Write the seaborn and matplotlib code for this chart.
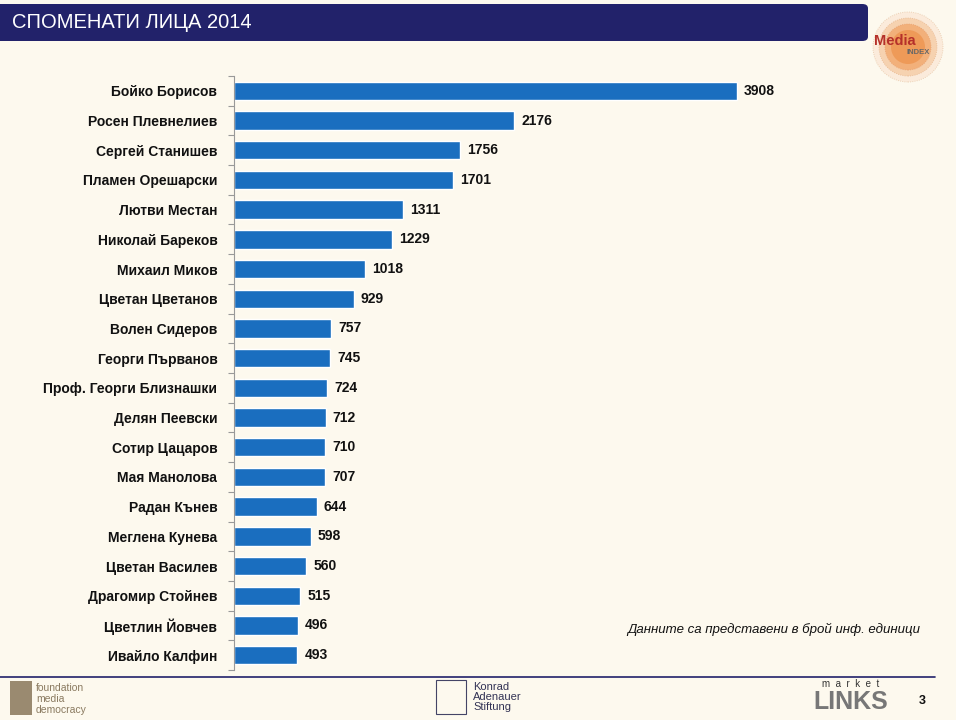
import pandas as pd
import matplotlib.pyplot as plt
import seaborn as sns
from matplotlib.patches import FancyBboxPatch, Ellipse

names = ["Бойко Борисов", "Росен Плевнелиев", "Сергей Станишев", "Пламен Орешарски",
         "Лютви Местан", "Николай Бареков", "Михаил Миков", "Цветан Цветанов",
         "Волен Сидеров", "Георги Първанов", "Проф. Георги Близнашки", "Делян Пеевски",
         "Сотир Цацаров", "Мая Манолова", "Радан Кънев", "Меглена Кунева",
         "Цветан Василев", "Драгомир Стойнев", "Цветлин Йовчев", "Ивайло Калфин"]
mentions = [3908, 2176, 1756, 1701, 1311, 1229, 1018, 929, 757, 745,
            724, 712, 710, 707, 644, 598, 560, 515, 496, 493]

title = "СПОМЕНАТИ ЛИЦА 2014"
note = "Данните са представени в брой инф. единици"

bg = "#FDF9EE"
bar_color = "#1A6EBF"
navy = "#22226A"

sns.set_theme(style="white")
plt.rcParams['font.family'] = ['Liberation Sans', 'DejaVu Sans']

df = pd.DataFrame({"name": names, "mentions": mentions})

fig = plt.figure(figsize=(9.56, 7.2), dpi=100, facecolor=bg)
ax = fig.add_axes([234 / 956, 1 - 670 / 720, 0.68, 594 / 720])
ax.set_facecolor(bg)

sns.barplot(data=df, x="mentions", y="name", orient="h", color=bar_color,
            width=0.62, saturation=1, ax=ax)

ax.set_xlim(0, 5050)
ax.set_ylim(len(names) - 0.5, -0.5)
for s in ["top", "right", "bottom"]:
    ax.spines[s].set_visible(False)
ax.spines["left"].set_color("#999999")
ax.spines["left"].set_linewidth(0.8)
ax.set_xticks([])
ax.set_xlabel("")
ax.set_ylabel("")
ax.set_yticks(range(len(names)))
ax.set_yticklabels(names, fontsize=10, fontweight="bold", color="#111111")
ax.tick_params(axis="y", which="major", left=False, length=0, pad=12)
# small boundary ticks on the axis line
ax.set_yticks([i - 0.5 for i in range(len(names) + 1)], minor=True)
ax.tick_params(axis="y", which="minor", left=True, length=4, color="#999999",
               width=0.8, direction="out")

for i, v in enumerate(mentions):
    ax.text(v + 55, i, str(v), va="center", ha="left", fontsize=10,
            fontweight="bold", color="#111111")

# header band
fig.patches.append(FancyBboxPatch((-0.01, 1 - 41 / 720), 868 / 956 + 0.01, 37 / 720,
                                  boxstyle="round,pad=0,rounding_size=0.006",
                                  transform=fig.transFigure, facecolor=navy,
                                  edgecolor="none", figure=fig))
fig.text(12 / 956, 1 - 23 / 720, title, color="white", fontsize=14.5,
         va="center", ha="left")

# Media Index logo (approximation)
cx, cy = 908 / 956, 1 - 47 / 720
for d, c, ec in [(70, "#FBEBDB", "#E8C8A8"), (58, "#F6D2B0", "#E8B890"),
                 (46, "#F2B07A", "#E8A070"), (34, "#EE9A58", "none")]:
    fig.patches.append(Ellipse((cx, cy), d / 956, d / 720, transform=fig.transFigure,
                               facecolor=c, edgecolor=ec, lw=0.6, ls=":", figure=fig))
fig.text(895 / 956, 1 - 41 / 720, "Media", color="#B5302A", fontsize=10.5,
         fontweight="bold", ha="center", va="center")
fig.text(918 / 956, 1 - 52 / 720, "INDEX", color="#666666", fontsize=5.5,
         fontweight="bold", ha="center", va="center")

fig.text(920 / 956, 1 - 629 / 720, note, ha="right", va="center",
         fontsize=9.5, style="italic", color="#111111")

# footer
fig.add_artist(plt.Line2D([0, 935 / 956], [1 - 677 / 720, 1 - 677 / 720],
                          transform=fig.transFigure, color=navy, lw=1.2))
fig.patches.append(FancyBboxPatch((10 / 956, 1 - 715 / 720), 22 / 956, 34 / 720,
                                  boxstyle="square,pad=0", transform=fig.transFigure,
                                  facecolor="#9A8A70", edgecolor="none", figure=fig))
fig.text(36 / 956, 1 - 699 / 720, "foundation\nmedia\ndemocracy", fontsize=7.5,
         color="#8A7A60", va="center", ha="left", linespacing=1.1)
fig.patches.append(FancyBboxPatch((436 / 956, 1 - 714 / 720), 30 / 956, 34 / 720,
                                  boxstyle="square,pad=0", transform=fig.transFigure,
                                  facecolor="none", edgecolor="#444466", lw=0.8, figure=fig))
fig.text(473 / 956, 1 - 697 / 720, "Konrad\nAdenauer\nStiftung", fontsize=8,
         color="#333355", va="center", ha="left", linespacing=1.05)
fig.text(851 / 956, 1 - 684 / 720, "m  a  r  k  e  t", fontsize=7, color="#333333",
         ha="center", va="center")
fig.text(851 / 956, 1 - 702 / 720, "LINKS", fontsize=18, fontweight="bold",
         color="#777777", ha="center", va="center")
fig.text(922 / 956, 1 - 701 / 720, "3", fontsize=9, fontweight="bold",
         color="#111111", ha="center", va="center")

fig.savefig("out.png", dpi=100, facecolor=bg)
